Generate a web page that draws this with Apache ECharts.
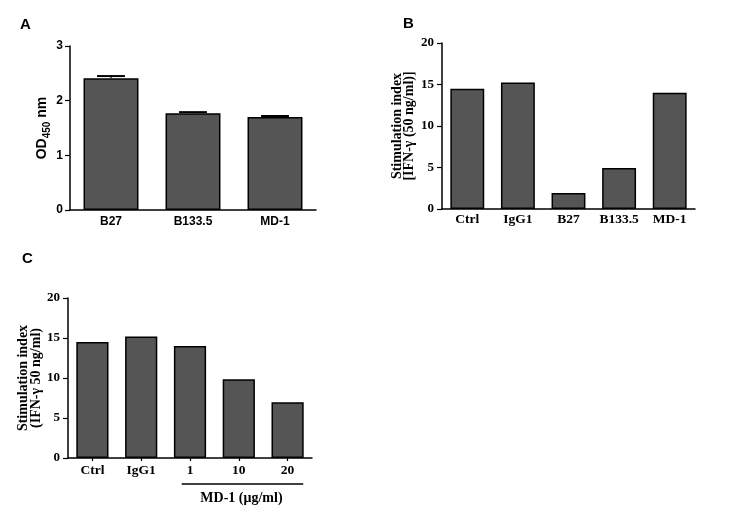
<!DOCTYPE html>
<html><head><meta charset="utf-8">
<script src="https://cdn.jsdelivr.net/npm/echarts@6/dist/echarts.min.js"></script>
<style>html,body{margin:0;padding:0;background:#fff}#c{width:735px;height:516px}</style>
</head><body><div id="c"></div>
<script>
// Panel A
const catsA = ['B27', 'B133.5', 'MD-1'];
const valsA = [2.41, 1.77, 1.70];
const errA = [2.45, 1.79, 1.72];
const ticksA = [0, 1, 2, 3];
// Panel B
const catsB = ['Ctrl', 'IgG1', 'B27', 'B133.5', 'MD-1'];
const valsB = [14.5, 15.25, 1.93, 4.95, 14.0];
// Panel C
const catsC = ['Ctrl', 'IgG1', '1', '10', '20'];
const valsC = [14.5, 15.2, 14.0, 9.85, 6.97];
const groupLabelC = 'MD-1 (μg/ml)';

const SANS = 'Liberation Sans';
const SERIF = 'Liberation Serif';
const BAR = '#555555';

function yAxis(grid, max, interval, font, size, name, gap, nameSize, lh, margin) {
  return {
    type: 'value', gridIndex: grid, min: 0, max: max, interval: interval,
    axisLine: {show: true, lineStyle: {color: '#000', width: 1.5}},
    axisTick: {show: true, length: 5, lineStyle: {color: '#000', width: 1.2}},
    splitLine: {show: false},
    axisLabel: {color: '#000', fontFamily: font, fontWeight: 'bold', fontSize: size, margin: margin},
    name: name, nameLocation: 'middle', nameGap: gap,
    nameTextStyle: {color: '#000', fontFamily: font, fontWeight: 'bold', fontSize: nameSize, lineHeight: lh,
      rich: {
        m: {fontFamily: font, fontWeight: 'bold', fontSize: 14, lineHeight: 19, verticalAlign: 'middle'},
        sub: {fontFamily: font, fontWeight: 'bold', fontSize: 10, lineHeight: 10, verticalAlign: 'bottom'}
      }}
  };
}
function xAxis(grid, cats, font, size, ticks, margin) {
  return {
    type: 'category', gridIndex: grid, data: cats,
    axisLine: {show: true, lineStyle: {color: '#000', width: 1.5}},
    axisTick: {show: ticks, alignWithLabel: true, interval: 0, length: 3, lineStyle: {color: '#000', width: 1.2}},
    axisLabel: {color: '#000', fontFamily: font, fontWeight: 'bold', fontSize: size, margin: margin, interval: 0}
  };
}
function barSeries(idx, vals, gap) {
  return {
    type: 'bar', xAxisIndex: idx, yAxisIndex: idx, data: vals, barCategoryGap: gap,
    itemStyle: {color: BAR, borderColor: '#000', borderWidth: 1.5},
    silent: true, animation: false
  };
}

const chart = echarts.init(document.getElementById('c'), null, {renderer: 'canvas'});
const option = {
  animation: false,
  grid: [
    {left: 70, top: 46, width: 246, height: 164},
    {left: 442, top: 43, width: 253, height: 166},
    {left: 68, top: 298, width: 244, height: 160}
  ],
  xAxis: [
    xAxis(0, catsA, SANS, 12, false, 6),
    xAxis(1, catsB, SERIF, 13.5, false, 4),
    xAxis(2, catsC, SERIF, 13.5, true, 6)
  ],
  yAxis: [
    yAxis(0, 3, 1, SANS, 12, '{m|OD}{sub|450}{m| nm}', 18, 14, 19, 7),
    yAxis(1, 20, 5, SERIF, 13, 'Stimulation index\n[IFN-γ (50 ng/ml)]', 26, 14, 12.5, 8),
    yAxis(2, 20, 5, SERIF, 13, 'Stimulation index\n(IFN-γ 50 ng/ml)', 21, 14, 13, 8)
  ],
  series: [
    barSeries(0, valsA, '33%'),
    {
      type: 'custom', xAxisIndex: 0, yAxisIndex: 0, silent: true,
      data: catsA.map((c, i) => [i, valsA[i], errA[i]]),
      renderItem: function (params, api) {
        const top = api.coord([api.value(0), api.value(2)]);
        const bot = api.coord([api.value(0), api.value(1)]);
        const w = api.size([1, 0])[0] * 0.34;
        return {type: 'group', children: [
          {type: 'line', shape: {x1: top[0], y1: top[1], x2: top[0], y2: bot[1]}, style: {stroke: '#000', lineWidth: 1.2}},
          {type: 'line', shape: {x1: top[0] - w / 2, y1: top[1], x2: top[0] + w / 2, y2: top[1]}, style: {stroke: '#000', lineWidth: 2}}
        ]};
      }
    },
    barSeries(1, valsB, '33%'),
    barSeries(2, valsC, '34%')
  ],
  graphic: [
    {type: 'text', left: 20, top: 17, style: {text: 'A', font: 'bold 15px "Liberation Sans"', fill: '#000'}},
    {type: 'text', left: 403, top: 16, style: {text: 'B', font: 'bold 15px "Liberation Sans"', fill: '#000'}},
    {type: 'text', left: 22, top: 251, style: {text: 'C', font: 'bold 15px "Liberation Sans"', fill: '#000'}}
  ]
};
chart.setOption(option);

// group annotation under panel C, positioned via the axis scale
const p1 = chart.convertToPixel({xAxisIndex: 2, yAxisIndex: 2}, [2, 0]);
const p2 = chart.convertToPixel({xAxisIndex: 2, yAxisIndex: 2}, [4, 0]);
const band = chart.convertToPixel({xAxisIndex: 2, yAxisIndex: 2}, [1, 0])[0] - chart.convertToPixel({xAxisIndex: 2, yAxisIndex: 2}, [0, 0])[0];
const x1 = p1[0] - band * 0.17, x2 = p2[0] + band * 0.32;
chart.setOption({graphic: option.graphic.concat([
  {type: 'line', shape: {x1: x1, y1: p1[1] + 26, x2: x2, y2: p1[1] + 26}, style: {stroke: '#000', lineWidth: 1.5}},
  {type: 'text', x: (x1 + x2) / 2 - 1, y: p1[1] + 40, style: {text: groupLabelC, font: 'bold 14px "Liberation Serif"', fill: '#000', align: 'center', verticalAlign: 'middle'}}
])});
</script></body></html>
